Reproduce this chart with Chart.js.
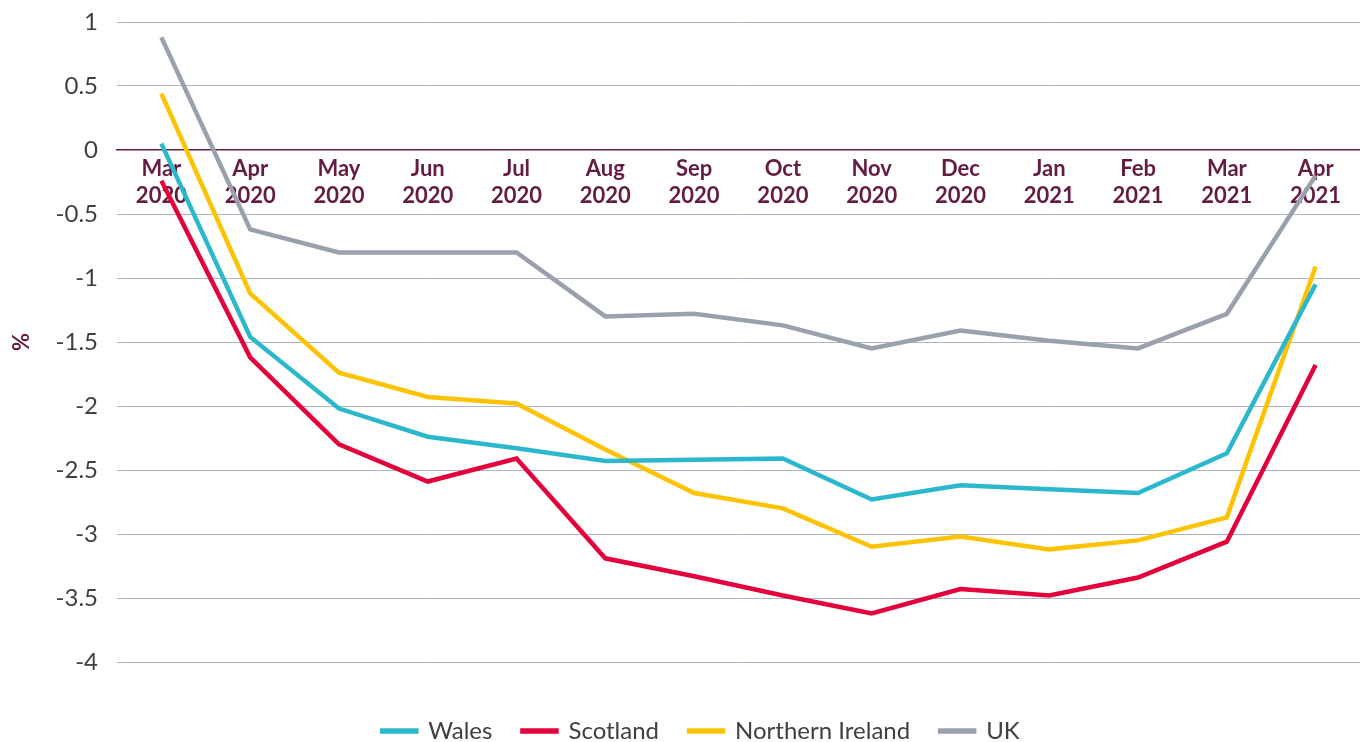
<!DOCTYPE html>
<html>
<head>
<meta charset="utf-8">
<script src="https://cdn.jsdelivr.net/npm/chart.js@4.4.1/dist/chart.umd.min.js"></script>
<style>
  html, body { margin: 0; padding: 0; background: #ffffff; }
  #wrap { width: 1360px; height: 742px; position: relative; }
</style>
</head>
<body>
<div id="wrap"><canvas id="c"></canvas></div>
<script>
const categories = ['Mar 2020', 'Apr 2020', 'May 2020', 'Jun 2020', 'Jul 2020', 'Aug 2020', 'Sep 2020', 'Oct 2020', 'Nov 2020', 'Dec 2020', 'Jan 2021', 'Feb 2021', 'Mar 2021', 'Apr 2021'];
const wales    = [0.05, -1.46, -2.02, -2.24, -2.33, -2.43, -2.42, -2.41, -2.73, -2.62, -2.65, -2.68, -2.37, -1.05];
const scotland = [-0.24, -1.62, -2.30, -2.59, -2.41, -3.19, -3.33, -3.48, -3.62, -3.43, -3.48, -3.34, -3.06, -1.68];
const northernIreland = [0.44, -1.12, -1.74, -1.93, -1.98, -2.34, -2.68, -2.80, -3.10, -3.02, -3.12, -3.05, -2.87, -0.91];
const uk       = [0.88, -0.62, -0.80, -0.80, -0.80, -1.30, -1.28, -1.37, -1.55, -1.41, -1.49, -1.55, -1.28, -0.20];
const seriesNames = ['Wales', 'Scotland', 'Northern Ireland', 'UK'];
const yAxisTitle = '%';

const MAROON = '#641c43';
const colors = ['#2bb8cd', '#e4003b', '#fdc300', '#9aa0ac'];
const seriesData = [wales, scotland, northernIreland, uk];

const datasets = seriesNames.map((name, i) => ({
  label: name,
  data: seriesData[i],
  borderColor: colors[i],
  backgroundColor: colors[i],
  borderWidth: 4.5,
  pointRadius: 0,
  pointHoverRadius: 0,
  tension: 0,
  fill: false
}));

const tickLabels = categories.map(c => c.split(' '));

// reduce the legend's reserved height so its single row sits near the bottom edge
const legendShift = {
  id: 'legendShift',
  beforeLayout(chart) {
    const lg = chart.legend;
    if (lg && !lg._shiftPatched) {
      const f = lg.fit;
      lg.fit = function () { f.call(this); this.height = Math.max(0, this.height - 11); };
      lg._shiftPatched = true;
    }
  }
};

new Chart(document.getElementById('c'), {
  type: 'line',
  data: { labels: tickLabels, datasets },
  plugins: [legendShift],
  options: {
    responsive: true,
    maintainAspectRatio: false,
    animation: false,
    layout: { padding: { top: 22, left: 42, right: 0, bottom: 0 } },
    plugins: {
      tooltip: { enabled: false },
      legend: {
        position: 'bottom',
        labels: {
          font: { family: 'Lato', size: 24 },
          color: '#404040',
          boxWidth: 34,
          boxHeight: 1,
          padding: 30
        }
      }
    },
    scales: {
      x: {
        type: 'category',
        position: { y: 0 },
        offset: true,
        grid: { display: false, drawTicks: false },
        border: { display: true, color: MAROON, width: 1.5 },
        ticks: {
          font: { family: 'Lato', size: 22, weight: 'bold', lineHeight: 1.2 },
          color: MAROON,
          padding: 6,
          maxRotation: 0,
          autoSkip: false
        }
      },
      xb: {
        type: 'category',
        position: 'bottom',
        offset: true,
        grid: { display: false, drawTicks: false },
        border: { display: false },
        ticks: { display: false },
        afterFit: (s) => { s.height = 27; }
      },
      y: {
        min: -4,
        max: 1,
        grid: {
          drawTicks: false,
          color: (ctx) => (ctx.tick && ctx.tick.value === 0) ? MAROON : '#b0b4c4'
        },
        border: { display: false },
        ticks: {
          stepSize: 0.5,
          font: { family: 'Lato', size: 24 },
          color: '#404040',
          padding: 19,
          callback: (v) => String(Number(v.toFixed(1)))
        },
        title: {
          display: true,
          text: yAxisTitle,
          color: MAROON,
          font: { family: 'Lato', size: 22, weight: 'bold' },
          padding: { top: -33, bottom: 0 }
        },
        afterFit: (s) => { s.width = 75; s.paddingTop = 0; s.paddingBottom = 0; }
      }
    }
  }
});
</script>
</body>
</html>
